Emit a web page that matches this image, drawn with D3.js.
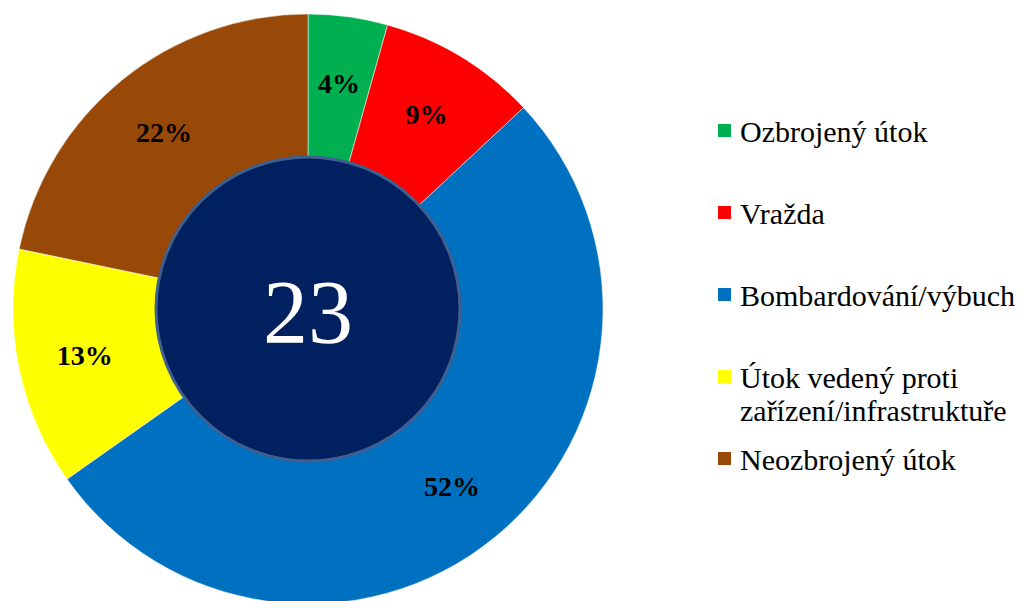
<!DOCTYPE html>
<html>
<head>
<meta charset="utf-8">
<script src="https://cdn.jsdelivr.net/npm/d3@7"></script>
<style>
  html, body { margin: 0; padding: 0; background: #fff; }
  svg { display: block; }
</style>
</head>
<body>
<div id="chart"></div>
<script>
// data
const categories = ["Ozbrojený útok", "Vražda", "Bombardování/výbuch", "Útok vedený proti zařízení/infrastruktuře", "Neozbrojený útok"];
const counts = [1, 2, 12, 3, 5];
const colors = ["#00b050", "#ff0000", "#0070c0", "#ffff00", "#984807"];

const width = 1025, height = 601;
const cx = 308, cy = 309;
const outerR = 295, innerR = 150, labelR = 228;
const total = d3.sum(counts);

const svg = d3.select("#chart").append("svg")
    .attr("width", width)
    .attr("height", height);

const g = svg.append("g").attr("transform", `translate(${cx},${cy})`);

const pie = d3.pie().sort(null).value(d => d.value);
const arcs = pie(categories.map((c, i) => ({ name: c, value: counts[i], color: colors[i] })));

const arc = d3.arc().innerRadius(innerR).outerRadius(outerR);
const labelArc = d3.arc().innerRadius(labelR).outerRadius(labelR);

g.selectAll("path.slice")
    .data(arcs)
    .enter().append("path")
    .attr("class", "slice")
    .attr("d", arc)
    .style("fill", d => d.data.color)
    .style("stroke", "#fff")
    .style("stroke-width", 0.5);

// percent labels
g.selectAll("text.pct")
    .data(arcs)
    .enter().append("text")
    .attr("class", "pct")
    .attr("transform", d => `translate(${labelArc.centroid(d)})`)
    .attr("text-anchor", "middle")
    .attr("dy", "0.35em")
    .style("font-family", "'Liberation Serif', 'Times New Roman', serif")
    .style("font-weight", "bold")
    .style("font-size", "28px")
    .style("fill", "#000")
    .text(d => Math.round(d.data.value / total * 100) + "%");

// centre disc with total
g.append("circle")
    .attr("r", 152)
    .style("fill", "#002060")
    .style("stroke", "#3f5f8f")
    .style("stroke-width", 3);

g.append("text")
    .attr("text-anchor", "middle")
    .attr("y", 34)
    .style("font-family", "'Liberation Serif', 'Times New Roman', serif")
    .style("font-size", "90px")
    .style("fill", "#fff")
    .text(total);

// legend
const legend = svg.append("g").attr("transform", "translate(718,131)");
const rowStep = 82, lineH = 33, maxW = 285;

const item = legend.selectAll("g.item")
    .data(arcs)
    .enter().append("g")
    .attr("class", "item")
    .attr("transform", (d, i) => `translate(0,${i * rowStep})`);

item.append("rect")
    .attr("x", 0)
    .attr("y", -7)
    .attr("width", 13)
    .attr("height", 13)
    .style("fill", d => d.data.color);

item.append("text")
    .attr("x", 22)
    .attr("dy", "0.35em")
    .style("font-family", "'Liberation Serif', 'Times New Roman', serif")
    .style("font-size", "30px")
    .style("fill", "#000")
    .each(function(d) {
        // wrap long names onto extra lines
        const text = d3.select(this);
        const words = d.data.name.split(" ");
        let line = [];
        let tspan = text.append("tspan").attr("x", 22);
        let n = 0;
        words.forEach(w => {
            line.push(w);
            tspan.text(line.join(" "));
            if (tspan.node().getComputedTextLength() > maxW && line.length > 1) {
                line.pop();
                tspan.text(line.join(" "));
                line = [w];
                n++;
                tspan = text.append("tspan").attr("x", 22).attr("dy", lineH).text(w);
            }
        });
    });
</script>
</body>
</html>
